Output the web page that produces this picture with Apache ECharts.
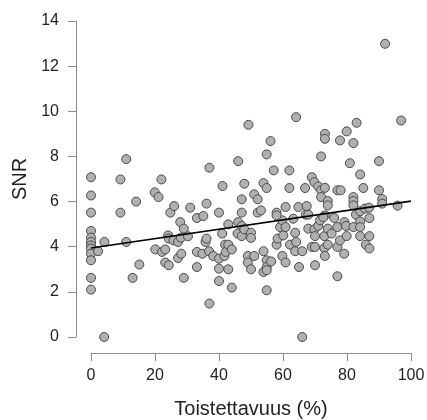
<!DOCTYPE html>
<html>
<head>
<meta charset="utf-8">
<script src="https://cdn.jsdelivr.net/npm/echarts@6/dist/echarts.min.js"></script>
<style>
  html, body { margin: 0; padding: 0; background: #ffffff; }
  #chart { width: 427px; height: 420px; }
</style>
</head>
<body>
<div id="chart"></div>
<script>
// Repeatability (%) of each measurement
const repeatability = [
  0, 0, 0, 0, 0, 0, 0, 0, 0, 0, 0, 0,
  2.2, 4.1, 4.2, 9.2, 9.2, 11.0, 11.0, 13.0, 14.1, 15.1, 19.9, 20.1,
  21.1, 22.0, 22.2, 23.2, 23.2, 24.1, 24.3, 24.3, 24.8, 25.8, 26.0, 27.2,
  27.2, 27.9, 28.1, 28.2, 29.0, 29.0, 30.3, 31.0, 33.1, 33.1, 33.1, 34.8,
  35.1, 35.8, 36.1, 36.1, 36.9, 37.0, 37.0, 38.2, 40.0, 40.0, 40.0, 40.0,
  41.0, 41.1, 41.7, 41.9, 42.1, 42.9, 42.9, 42.9, 44.0, 44.0, 45.8, 46.0,
  46.0, 47.1, 47.1, 47.1, 47.1, 47.9, 47.9, 49.0, 49.0, 49.2, 50.0, 50.0,
  50.0, 51.0, 51.0, 52.1, 52.1, 53.1, 53.9, 53.9, 53.9, 54.9, 54.9, 54.9,
  54.9, 54.9, 54.9, 56.1, 56.3, 57.1, 58.0, 58.0, 58.3, 59.1, 59.8, 59.8,
  60.1, 60.8, 60.8, 60.8, 62.0, 62.0, 62.2, 63.2, 63.8, 63.8, 64.1, 64.1,
  64.8, 65.0, 66.0, 66.0, 66.9, 67.1, 67.4, 67.9, 67.9, 69.0, 69.0, 69.8,
  69.8, 70.0, 70.0, 70.0, 71.0, 71.0, 71.6, 71.9, 71.9, 71.9, 72.9, 72.9,
  73.1, 73.1, 73.1, 73.1, 73.1, 74.0, 74.0, 74.0, 74.0, 75.2, 76.0, 77.0,
  77.0, 77.0, 77.0, 77.8, 77.8, 78.0, 79.1, 79.2, 79.7, 79.9, 79.9, 80.9,
  82.0, 82.0, 82.0, 82.0, 82.0, 82.8, 83.0, 84.1, 84.1, 84.1, 84.1, 84.1,
  85.1, 85.6, 85.9, 86.9, 87.0, 87.0, 87.0, 90.0, 90.0, 91.0, 91.0, 91.9,
  95.8, 96.9, 58.0, 72.6
];

// Signal-to-noise ratio of each measurement
const snr = [
  7.08, 6.27, 5.51, 4.70, 4.40, 4.21, 4.06, 3.92, 3.69, 3.40, 2.62, 2.10,
  3.80, 0.00, 4.21, 6.98, 5.51, 7.88, 4.21, 2.62, 6.00, 3.21, 6.41, 3.88,
  6.20, 6.98, 3.77, 3.88, 3.30, 4.50, 4.36, 3.18, 5.51, 4.28, 5.80, 4.21,
  3.50, 5.09, 4.40, 3.69, 4.80, 2.62, 4.46, 5.73, 5.27, 3.77, 3.10, 3.69,
  5.36, 4.21, 4.36, 5.91, 3.80, 7.50, 1.48, 3.59, 5.51, 3.47, 3.03, 2.48,
  4.58, 6.69, 3.59, 4.09, 3.77, 4.99, 4.09, 3.00, 3.88, 2.19, 4.58, 5.09,
  7.79, 5.51, 4.92, 4.47, 6.10, 4.77, 6.79, 3.59, 3.30, 9.40, 4.62, 4.39,
  3.00, 3.59, 6.32, 5.51, 6.10, 5.61, 3.80, 2.88, 6.82, 3.40, 3.10, 2.96,
  2.07, 8.09, 6.60, 8.68, 3.35, 7.38, 5.51, 4.09, 4.36, 4.87, 3.59, 5.17,
  4.50, 5.76, 4.87, 3.30, 7.38, 6.60, 4.09, 5.24, 4.62, 3.80, 4.21, 9.74,
  5.76, 3.10, 3.80, 0.00, 6.60, 5.42, 5.80, 5.42, 4.80, 7.08, 3.99, 6.86,
  4.77, 4.47, 3.99, 3.18, 6.67, 4.92, 5.17, 8.00, 6.50, 6.20, 4.47, 3.94,
  9.00, 8.78, 6.61, 5.39, 3.59, 6.02, 5.83, 4.80, 4.09, 4.58, 5.27, 6.50,
  4.87, 3.99, 2.69, 8.71, 4.28, 6.50, 3.69, 5.09, 4.92, 9.11, 4.47, 7.70,
  8.59, 6.20, 6.02, 5.83, 4.87, 5.42, 9.49, 7.20, 5.57, 5.12, 4.87, 4.47,
  6.60, 5.69, 4.09, 5.73, 5.27, 4.47, 3.92, 7.79, 6.50, 6.11, 5.91, 12.99,
  5.82, 9.59, 5.39, 5.31
];

// Fitted linear trend, evaluated at the ends of the x range
const trendX = [0, 100];
const trendY = [3.94, 6.02];

// Axis tick values
const xTicks = [0, 20, 40, 60, 80, 100];
const yTicks = [0, 2, 4, 6, 8, 10, 12, 14];

const points = repeatability.map((x, i) => [x, snr[i]]);
const trend = trendX.map((x, i) => [x, trendY[i]]);

const FONT = '"Liberation Sans", Arial, Helvetica, sans-serif';
const axisColor = '#8c8c8c';
const textColor = '#222222';

const chart = echarts.init(document.getElementById('chart'), null, { renderer: 'canvas' });

chart.setOption({
  animation: false,
  backgroundColor: '#ffffff',
  grid: {
    left: 91, right: 16, top: 21, bottom: 83,
    containLabel: false,
    outerBoundsMode: 'none'
  },
  xAxis: {
    type: 'value',
    min: xTicks[0],
    max: xTicks[xTicks.length - 1],
    interval: xTicks[1] - xTicks[0],
    offset: 16,
    name: 'Toistettavuus (%)',
    nameLocation: 'middle',
    nameGap: 46,
    nameTextStyle: { fontFamily: FONT, fontSize: 20, color: textColor },
    axisLine: { show: true, onZero: false, lineStyle: { color: axisColor, width: 1 } },
    axisTick: { show: true, length: 8, lineStyle: { color: axisColor, width: 1 } },
    axisLabel: { fontFamily: FONT, fontSize: 16, color: textColor, margin: 15 },
    splitLine: { show: false }
  },
  yAxis: {
    type: 'value',
    min: yTicks[0],
    max: yTicks[yTicks.length - 1],
    interval: yTicks[1] - yTicks[0],
    offset: 15,
    name: 'SNR',
    nameLocation: 'middle',
    nameRotate: 90,
    nameGap: 44,
    nameTextStyle: { fontFamily: FONT, fontSize: 20, color: textColor },
    axisLine: { show: true, onZero: false, lineStyle: { color: axisColor, width: 1 } },
    axisTick: { show: true, length: 8, lineStyle: { color: axisColor, width: 1 } },
    axisLabel: { fontFamily: FONT, fontSize: 16, color: textColor, margin: 17 },
    splitLine: { show: false }
  },
  series: [
    {
      type: 'scatter',
      data: points,
      symbol: 'circle',
      symbolSize: 9,
      itemStyle: { color: '#b0b0b0', borderColor: '#4a4a4a', borderWidth: 1, opacity: 1 },
      z: 2
    },
    {
      type: 'line',
      data: trend,
      symbol: 'none',
      lineStyle: { color: '#000000', width: 1.6 },
      z: 3
    }
  ]
});
</script>
</body>
</html>
